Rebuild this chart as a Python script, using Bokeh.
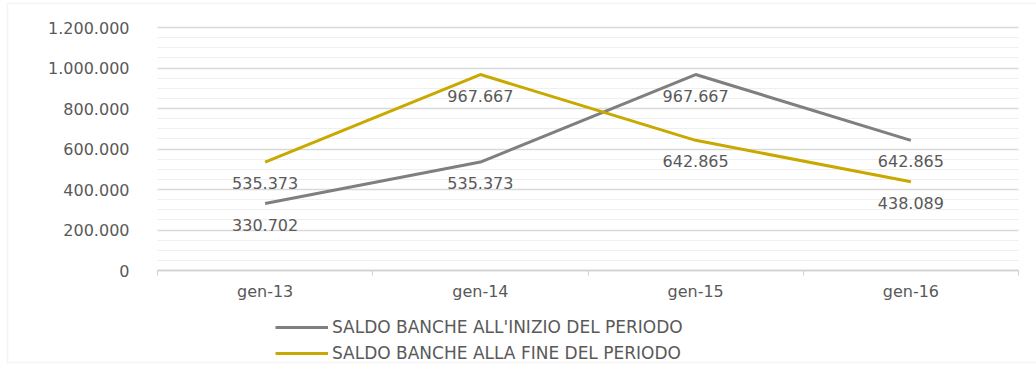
from bokeh.plotting import figure
from bokeh.models import (ColumnDataSource, LabelSet, Legend, LegendItem, FixedTicker,
                          CustomJSTickFormatter, Range1d, BoxAnnotation, LinearAxis, Grid)
from bokeh.core.properties import value
from bokeh.embed import file_html
from bokeh.resources import INLINE

categories = ["gen-13", "gen-14", "gen-15", "gen-16"]
saldo_inizio = [330702, 535373, 967667, 642865]
saldo_fine = [535373, 967667, 642865, 438089]
series_names = ["SALDO BANCHE ALL'INIZIO DEL PERIODO", "SALDO BANCHE ALLA FINE DEL PERIODO"]
y_ticks = [0, 200000, 400000, 600000, 800000, 1000000, 1200000]
y_max = 1200000

FONT = "DejaVu Sans"
TXT = "#595959"
GREY = "#7f7f7f"
GOLD = "#c9a800"

def it_fmt(v):
    return f"{v:,}".replace(",", ".")

n = len(categories)
xs = [i + 0.5 for i in range(n)]

# plot area in pixels: x 157..1018, y 27 (top) .. 270 (zero line); the frame covers the whole canvas
W, H = 1036, 370
px_l, px_r, py_t, py_b = 157, 1018, 27, 270
ux = n / (px_r - px_l)
uy = y_max / (py_b - py_t)
x_range = Range1d(-px_l * ux, n + (W - px_r) * ux)
y_range = Range1d(-(H - py_b) * uy, y_max + py_t * uy)

p = figure(width=W, height=H, output_backend="svg", toolbar_location=None,
           x_range=x_range, y_range=y_range, x_axis_location=None, y_axis_location=None,
           min_border=0)
p.outline_line_color = None
p.background_fill_color = "white"
p.border_fill_color = "white"
p.grid.visible = False

yax = LinearAxis(fixed_location=0, bounds=(0, y_max))
xax = LinearAxis(fixed_location=0, bounds=(0, n))
p.add_layout(yax, "left")
p.add_layout(xax, "below")

# y axis
yax.ticker = FixedTicker(ticks=y_ticks, minor_ticks=list(range(0, y_max + 1, 50000)))
yax.formatter = CustomJSTickFormatter(
    code="return Math.round(tick).toString().replace(/\\B(?=(\\d{3})+(?!\\d))/g, '.');")
yax.axis_line_color = None
yax.major_tick_line_color = None
yax.minor_tick_line_color = None
yax.major_tick_out = 0
yax.major_tick_in = 0
yax.minor_tick_out = 0
yax.major_label_standoff = 28
yax.major_label_text_font = FONT
yax.major_label_text_font_size = "16px"
yax.major_label_text_color = TXT

# x axis
xax.ticker = FixedTicker(ticks=xs, minor_ticks=list(range(n + 1)))
xax.major_label_overrides = {x: c for x, c in zip(xs, categories)}
xax.axis_line_color = "#d0d0d0"
xax.axis_line_width = 1.5
xax.major_tick_line_color = None
xax.major_tick_out = 0
xax.major_tick_in = 0
xax.minor_tick_line_color = "#d0d0d0"
xax.minor_tick_out = 5
xax.minor_tick_in = 0
xax.major_label_standoff = 6
xax.major_label_text_font = FONT
xax.major_label_text_font_size = "16px"
xax.major_label_text_color = TXT

ygrid = Grid(dimension=1, ticker=yax.ticker,
             grid_line_color="#d9d9d9", grid_line_width=1.5,
             minor_grid_line_color="#efefef", minor_grid_line_width=1)
try:
    ygrid.cross_bounds = (0, n)
    p.add_layout(ygrid)
except Exception:
    p.segment(x0=[0] * len(y_ticks), x1=[n] * len(y_ticks), y0=y_ticks, y1=y_ticks,
              line_color="#d9d9d9", line_width=1.5)

src1 = ColumnDataSource(dict(x=xs, y=saldo_inizio, t=[it_fmt(v) for v in saldo_inizio]))
src2 = ColumnDataSource(dict(x=xs, y=saldo_fine, t=[it_fmt(v) for v in saldo_fine]))

r1 = p.line("x", "y", source=src1, line_color=GREY, line_width=3)
r2 = p.line("x", "y", source=src2, line_color=GOLD, line_width=3)

for s in (src1, src2):
    p.add_layout(LabelSet(x="x", y="y", text="t", source=s, y_offset=-21,
                          text_align="center", text_baseline="middle",
                          text_font=value(FONT), text_font_size=value("16px"),
                          text_color=TXT))

legend = Legend(items=[LegendItem(label=series_names[0], renderers=[r1]),
                       LegendItem(label=series_names[1], renderers=[r2])],
                location=(275, 4), orientation="vertical",
                margin=0, padding=0, spacing=0,
                glyph_width=53, glyph_height=26, label_height=26, label_standoff=4,
                label_text_font=FONT, label_text_font_size="17px", label_text_color=TXT,
                background_fill_alpha=0, border_line_color=None)
p.add_layout(legend, "center")

p.add_layout(BoxAnnotation(left=7, right=1060, top=8, bottom=367,
                           left_units="screen", right_units="screen",
                           top_units="screen", bottom_units="screen",
                           fill_alpha=0, line_color="#d9d9d9", line_width=1.5))

open("out.html", "w").write(file_html(p, INLINE))
